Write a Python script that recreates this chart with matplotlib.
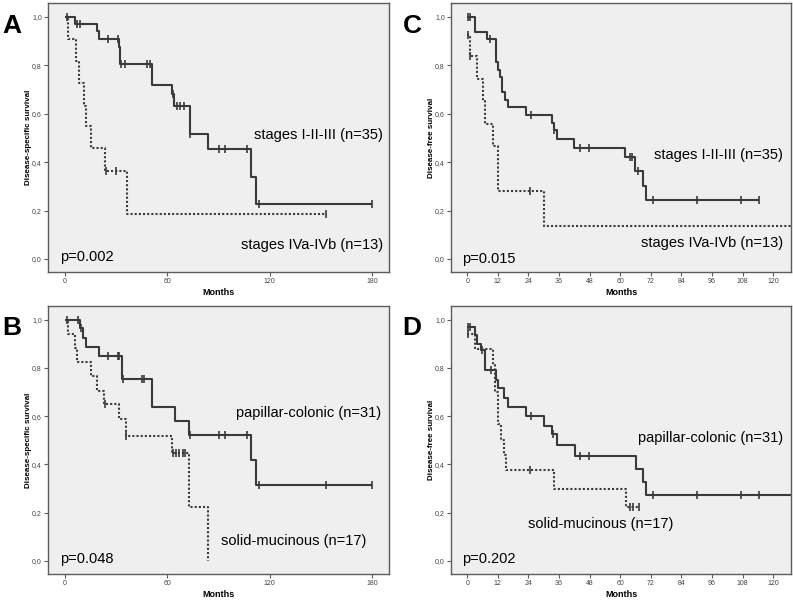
import numpy as np
import matplotlib
matplotlib.use("Agg")
import matplotlib.pyplot as plt

plt.rcParams['font.family'] = ['Liberation Sans', 'DejaVu Sans']

# ---- data (months, survival) ----
# A: disease-specific survival by stage
a_early_t = [0, 6, 19, 19.8, 31.5, 32.3, 51, 63, 64, 73, 84, 109, 112, 180]
a_early_s = [1.0, 0.97, 0.94, 0.91, 0.875, 0.805, 0.72, 0.68, 0.632, 0.517, 0.453, 0.34, 0.228, 0.228]
a_early_cens = [1, 7, 9, 25, 31, 33, 35, 48, 50, 63.5, 65.5, 67.5, 69.5, 73, 90, 94, 107, 114, 180]
a_late_t = [0, 1.6, 6.5, 8.2, 11.1, 12.1, 15, 23.5, 36.2, 153]
a_late_s = [1.0, 0.91, 0.817, 0.728, 0.632, 0.547, 0.457, 0.365, 0.185, 0.185]
a_late_cens = [24, 30, 153]

# B: disease-specific survival by histotype
b_pap_t = [0, 8.8, 10.7, 12.1, 20.1, 33.2, 50.8, 64.5, 72.9, 108.9, 112, 180]
b_pap_s = [1.0, 0.967, 0.926, 0.887, 0.849, 0.754, 0.637, 0.582, 0.523, 0.42, 0.315, 0.315]
b_pap_cens = [1, 7.4, 9.5, 25, 30.8, 31.7, 33.8, 45, 46.5, 73, 90, 94, 107, 114, 153, 180]
b_sol_t = [0, 1.6, 5.9, 7.2, 15, 18.9, 23, 31.7, 35.6, 62.9, 72.9, 84]
b_sol_s = [1.0, 0.942, 0.883, 0.825, 0.766, 0.705, 0.649, 0.589, 0.518, 0.447, 0.224, 0.0]
b_sol_cens = [23.5, 36, 63.5, 65, 67, 69, 70.4]

# C: disease-free survival by stage
c_early_t = [0, 3, 7.6, 11.3, 12.1, 12.9, 13.8, 14.9, 15.9, 23, 33.4, 34, 35.1, 42,
             61.8, 65.8, 69, 70.3, 114.4]
c_early_s = [1.0, 0.938, 0.908, 0.814, 0.782, 0.752, 0.69, 0.658, 0.628, 0.596, 0.561,
             0.531, 0.494, 0.459, 0.42, 0.365, 0.303, 0.244, 0.244]
c_early_cens = [0.2, 1.1, 8.9, 24.8, 34.2, 44.3, 47.6, 63.8, 64.7, 67, 72.8, 90, 107.2, 114.4]
c_late_t = [0, 1.1, 3.9, 6.3, 7, 10, 12.2, 30.2, 130]
c_late_s = [0.923, 0.837, 0.745, 0.651, 0.559, 0.466, 0.28, 0.138, 0.138]
c_late_cens = [0.2, 1.1, 24.4]

# D: disease-free survival by histotype
d_pap_t = [0, 3, 3.9, 5.4, 7.1, 11.3, 12.2, 14.2, 16.1, 23, 30.1, 33.1, 35.1, 42.3,
           66.2, 69, 70.3, 130]
d_pap_s = [0.969, 0.935, 0.90, 0.876, 0.793, 0.752, 0.717, 0.677, 0.638, 0.60, 0.56,
           0.525, 0.48, 0.434, 0.38, 0.326, 0.273, 0.273]
d_pap_cens = [0.3, 1.1, 5.9, 9.2, 24.8, 33.8, 44.3, 47.6, 72.8, 90, 107.2, 114.4]
d_sol_t = [0, 3, 10, 11, 12.2, 13.2, 14.2, 15.2, 34.1, 62.1, 67.3]
d_sol_s = [0.942, 0.88, 0.814, 0.70, 0.567, 0.503, 0.438, 0.376, 0.30, 0.225, 0.225]
d_sol_cens = [0.2, 24.4, 63.8, 65.1, 67.3]

y_ticks = [0.0, 0.2, 0.4, 0.6, 0.8, 1.0]
x_ticks_long = [0, 60, 120, 180]
x_ticks_short = [0, 12, 24, 36, 48, 60, 72, 84, 96, 108, 120]

LINE = '#3a3a3a'
BG = '#efefef'
FRAME = '#5c5c5c'


def km(ax, t, s, cens, ls):
    t = np.asarray(t, float)
    s = np.asarray(s, float)
    ax.plot(t, s, drawstyle='steps-post', color=LINE, lw=1.5, linestyle=ls,
            solid_capstyle='butt', clip_on=True)
    c = np.asarray(cens, float)
    idx = np.searchsorted(t, c, side='right') - 1
    ax.plot(c, s[idx], linestyle='none', marker='|', ms=6, mew=1.2, color=LINE)


def style(ax, xlim, xticks, ylabel):
    ax.set_facecolor(BG)
    ax.set_xlim(*xlim)
    ax.set_ylim(-0.054, 1.057)
    ax.set_xticks(xticks)
    ax.set_xticklabels([str(v) for v in xticks])
    ax.set_yticks(y_ticks)
    ax.set_yticklabels([f"{v:.1f}".replace('.', ',') for v in y_ticks])
    ax.tick_params(length=3, width=0.8, color=FRAME, labelsize=5, labelcolor='#444444', pad=1.5)
    for sp in ax.spines.values():
        sp.set_color(FRAME)
        sp.set_linewidth(1.0)
    ax.text(-0.056, 0.5, ylabel, transform=ax.transAxes, rotation=90, ha='center',
            va='center', fontsize=5.8, fontweight='bold')
    ax.text(0.5, -0.076, 'Months', transform=ax.transAxes, ha='center', va='center',
            fontsize=6.5, fontweight='bold')


fig = plt.figure(figsize=(7.93, 6.03), dpi=100)
W, H = 793.0, 603.0
axA = fig.add_axes([48 / W, 1 - 272 / H, 341 / W, 269 / H])
axC = fig.add_axes([451 / W, 1 - 272 / H, 340 / W, 269 / H])
axB = fig.add_axes([48 / W, 1 - 574 / H, 341 / W, 268 / H])
axD = fig.add_axes([451 / W, 1 - 574 / H, 340 / W, 268 / H])

# A
style(axA, (-10, 190), x_ticks_long, 'Disease-specific survival')
km(axA, a_early_t, a_early_s, a_early_cens, '-')
km(axA, a_late_t, a_late_s, a_late_cens, (0, (1, 1)))
axA.text(186.5, 0.512, 'stages I-II-III (n=35)', ha='right', va='center', fontsize=10.5)
axA.text(186.5, 0.059, 'stages IVa-IVb (n=13)', ha='right', va='center', fontsize=10.5)
axA.text(-2.9, 0.01, 'p=0.002', ha='left', va='center', fontsize=10.5)

# B
style(axB, (-10, 190), x_ticks_long, 'Disease-specific survival')
km(axB, b_pap_t, b_pap_s, b_pap_cens, '-')
km(axB, b_sol_t, b_sol_s, b_sol_cens, (0, (1, 1)))
axB.text(185.3, 0.613, 'papillar-colonic (n=31)', ha='right', va='center', fontsize=10.5)
axB.text(177, 0.081, 'solid-mucinous (n=17)', ha='right', va='center', fontsize=10.5)
axB.text(-2.9, 0.007, 'p=0.048', ha='left', va='center', fontsize=10.5)

# C
style(axC, (-6.4, 127), x_ticks_short, 'Disease-free survival')
km(axC, c_early_t, c_early_s, c_early_cens, '-')
km(axC, c_late_t, c_late_s, c_late_cens, (0, (1, 1)))
axC.text(123.8, 0.428, 'stages I-II-III (n=35)', ha='right', va='center', fontsize=10.5)
axC.text(123.8, 0.067, 'stages IVa-IVb (n=13)', ha='right', va='center', fontsize=10.5)
axC.text(-2.1, 0.0, 'p=0.015', ha='left', va='center', fontsize=10.5)

# D
style(axD, (-6.4, 127), x_ticks_short, 'Disease-free survival')
km(axD, d_pap_t, d_pap_s, d_pap_cens, '-')
km(axD, d_sol_t, d_sol_s, d_sol_cens, (0, (1, 1)))
axD.text(123.8, 0.509, 'papillar-colonic (n=31)', ha='right', va='center', fontsize=10.5)
axD.text(23.8, 0.153, 'solid-mucinous (n=17)', ha='left', va='center', fontsize=10.5)
axD.text(-2.1, 0.008, 'p=0.202', ha='left', va='center', fontsize=10.5)

# panel letters
for lab, x, y in [('A', 2, 33), ('C', 403, 33), ('B', 2, 335), ('D', 402, 335)]:
    fig.text(x / W, 1 - y / H, lab, ha='left', va='baseline', fontsize=19, fontweight='bold')

fig.savefig('out.png', dpi=100, facecolor='white')
